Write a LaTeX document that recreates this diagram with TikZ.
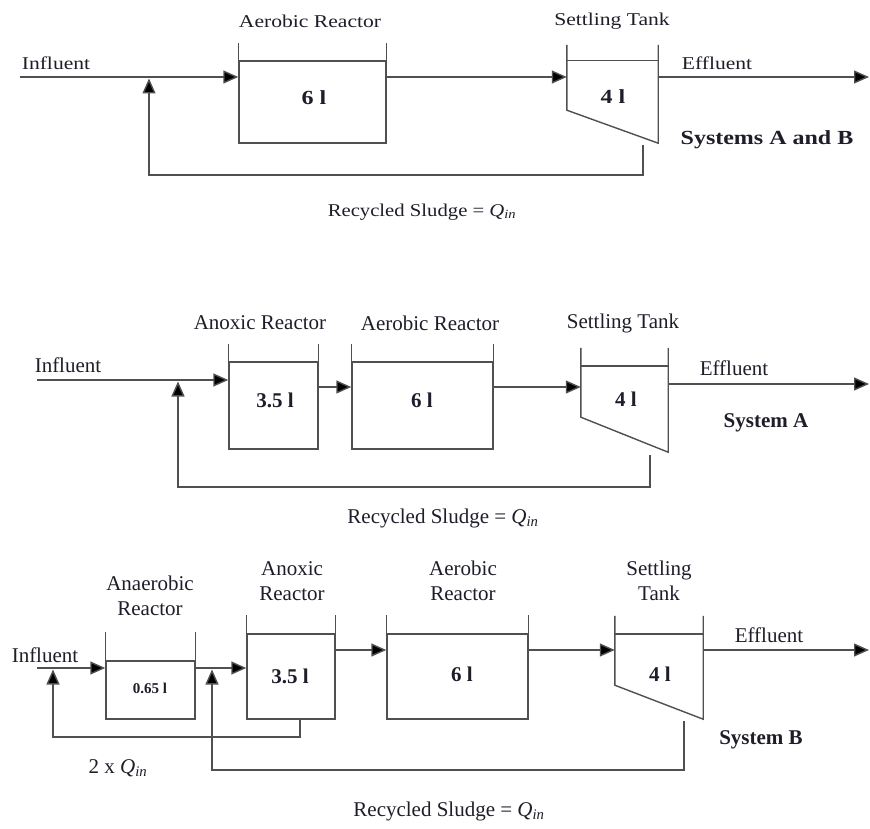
\documentclass[tikz,border=0pt]{standalone}
\usepackage{fontspec}
\usepackage{graphicx}
\setmainfont{Liberation Serif}
\usetikzlibrary{arrows.meta,calc}
\definecolor{linec}{HTML}{505050}
\definecolor{txtc}{HTML}{1E1E2A}
\tikzset{
  pipe/.style={draw=linec, line width=1.4pt},
  flow/.style={pipe, -{Triangle[length=15pt,width=13pt,fill=black]}},
  tank/.style={pipe, rectangle, inner sep=0pt, text=txtc},
  hidden/.style={rectangle, inner sep=0pt, draw=none},
  lbl/.style={text=txtc, inner sep=0pt, align=center},
  ftop/.style={lbl, font=\fontsize{18}{22}\selectfont},
  fmid/.style={lbl, font=\fontsize{21}{25}\selectfont},
  vtop/.style={lbl, font=\bfseries\fontsize{20}{24}\selectfont},
  vmid/.style={lbl, font=\bfseries\fontsize{21}{25}\selectfont},
  vsmall/.style={lbl, font=\bfseries\fontsize{15}{18}\selectfont},
  sysl/.style={lbl, font=\bfseries\fontsize{21}{25}\selectfont},
}
\newcommand{\wide}[1]{\scalebox{1.2}[1]{#1}}
\newcommand{\Qin}{\textit{Q}\textsubscript{\textit{in}}}
\begin{document}
\begin{tikzpicture}[x=1pt,y=-1pt]
\useasboundingbox[fill=white] (0,0) rectangle (870,829);

% ================= TOP: Systems A and B =================
\node[tank, minimum width=147pt, minimum height=82pt] (aer1) at (312.5,102) {};
\node[vtop] (v1a) at (314,98) {\wide{6 l}};
\draw[pipe] (aer1.north west) -- ++(0,-17) (aer1.north east) -- ++(0,-17);

\node[hidden, minimum width=91pt, minimum height=82pt] (st1) at (612.5,102) {};
\node[vtop] (v1b) at (613,97) {\wide{4 l}};
\draw[pipe] ($(st1.north west)+(0,-16)$) -- ($(st1.south west)+(0,-33)$) -- (st1.south east) -- ($(st1.north east)+(0,-16)$);
\draw[pipe] (st1.north west) -- (st1.north east);

\coordinate (in1) at (20,77);
\coordinate (out1) at (869,77);
\coordinate (j1) at (149,78.5);
\coordinate (r1) at (643,145);
\draw[flow] (in1) -- (in1 -| aer1.west);
\draw[flow] (in1 -| aer1.east) -- (in1 -| st1.west);
\draw[flow] (in1 -| st1.east) -- (out1);
\draw[flow] (r1) -- ++(0,30) -| (j1);

\node[ftop] (l1a) at (56,63) {\wide{Influent}};
\node[ftop] (l1b) at (310,21) {\wide{Aerobic Reactor}};
\node[ftop] (l1c) at (612,21) {\wide{Settling Tank}};
\node[ftop] (l1d) at (717,63) {\wide{Effluent}};
\node[vtop] (l1e) at (767,140) {\wide{Systems A and B}};
\node[ftop] (l1f) at (422,212) {\scalebox{1.15}[1]{Recycled Sludge = \Qin}};

% ================= MIDDLE: System A =================
\node[tank, minimum width=89pt, minimum height=87pt] (ax2) at (273.5,405.5) {};
\node[vmid] (v2a) at (275,400) {3.5 l};
\draw[pipe] (ax2.north west) -- ++(0,-17) (ax2.north east) -- ++(0,-17);

\node[tank, minimum width=141pt, minimum height=87pt] (ae2) at (422.5,405.5) {};
\node[vmid] (v2b) at (422,400) {6 l};
\draw[pipe] (ae2.north west) -- ++(0,-17) (ae2.north east) -- ++(0,-17);

\node[hidden, minimum width=87pt, minimum height=86pt] (st2) at (624.5,409) {};
\node[vmid] (v2c) at (626,399) {4 l};
\draw[pipe] ($(st2.north west)+(0,-18)$) -- ($(st2.south west)+(0,-35)$) -- (st2.south east) -- ($(st2.north east)+(0,-18)$);
\draw[pipe] (st2.north west) -- (st2.north east);

\coordinate (in2) at (37,380);
\coordinate (m2) at (0,387);
\coordinate (out2) at (869,384);
\coordinate (j2) at (178,381.5);
\coordinate (r2) at (650,455);
\draw[flow] (in2) -- (in2 -| ax2.west);
\draw[flow] (m2 -| ax2.east) -- (m2 -| ae2.west);
\draw[flow] (m2 -| ae2.east) -- (m2 -| st2.west);
\draw[flow] (out2 -| st2.east) -- (out2);
\draw[flow] (r2) -- ++(0,32) -| (j2);

\node[fmid] (l2a) at (68,365) {Influent};
\node[fmid] (l2b) at (260,323) {Anoxic Reactor};
\node[fmid] (l2c) at (430,323) {Aerobic Reactor};
\node[fmid] (l2d) at (623,323) {Settling Tank};
\node[fmid] (l2e) at (734,368) {Effluent};
\node[sysl] (l2f) at (766,423) {System A};
\node[fmid] (l2g) at (443,518) {Recycled Sludge = \Qin};

% ================= BOTTOM: System B =================
\node[tank, minimum width=89pt, minimum height=58pt] (an3) at (150.5,690) {};
\node[vsmall] (v3a) at (150,688) {0.65 l};
\draw[pipe] (an3.north west) -- ++(0,-28) (an3.north east) -- ++(0,-28);

\node[tank, minimum width=88pt, minimum height=85pt] (ax3) at (291,676.5) {};
\node[vmid] (v3b) at (290,676) {3.5 l};
\draw[pipe] (ax3.north west) -- ++(0,-18) (ax3.north east) -- ++(0,-18);

\node[tank, minimum width=141pt, minimum height=85pt] (ae3) at (457.5,676.5) {};
\node[vmid] (v3c) at (462,674) {6 l};
\draw[pipe] (ae3.north west) -- ++(0,-18) (ae3.north east) -- ++(0,-18);

\node[hidden, minimum width=88pt, minimum height=85pt] (st3) at (659,676.5) {};
\node[vmid] (v3d) at (660,674) {4 l};
\draw[pipe] ($(st3.north west)+(0,-18)$) -- ($(st3.south west)+(0,-34)$) -- (st3.south east) -- ($(st3.north east)+(0,-18)$);
\draw[pipe] (st3.north west) -- (st3.north east);

\coordinate (in3) at (37,668);
\coordinate (m3) at (0,650);
\coordinate (out3) at (869,650);
\coordinate (j3a) at (53,669.5);
\coordinate (j3b) at (212,669.5);
\coordinate (r3a) at (300,719);
\coordinate (r3b) at (684,721);
\draw[flow] (in3) -- (in3 -| an3.west);
\draw[flow] (in3 -| an3.east) -- (in3 -| ax3.west);
\draw[flow] (m3 -| ax3.east) -- (m3 -| ae3.west);
\draw[flow] (m3 -| ae3.east) -- (m3 -| st3.west);
\draw[flow] (m3 -| st3.east) -- (out3);
\draw[flow] (r3a) -- ++(0,18) -| (j3a);
\draw[flow] (r3b) -- ++(0,49) -| (j3b);

\node[fmid] (l3a) at (45,655) {Influent};
\node[fmid] (l3b) at (150,596) {Anaerobic\\Reactor};
\node[fmid] (l3c) at (292,581) {Anoxic\\Reactor};
\node[fmid] (l3d) at (463,581) {Aerobic\\Reactor};
\node[fmid] (l3e) at (659,581) {Settling\\Tank};
\node[fmid] (l3f) at (769,635) {Effluent};
\node[sysl] (l3g) at (761,740) {System B};
\node[fmid] (l3h) at (118,768) {2 x \Qin};
\node[fmid] (l3i) at (449,811) {Recycled Sludge = \Qin};
\end{tikzpicture}
\end{document}
